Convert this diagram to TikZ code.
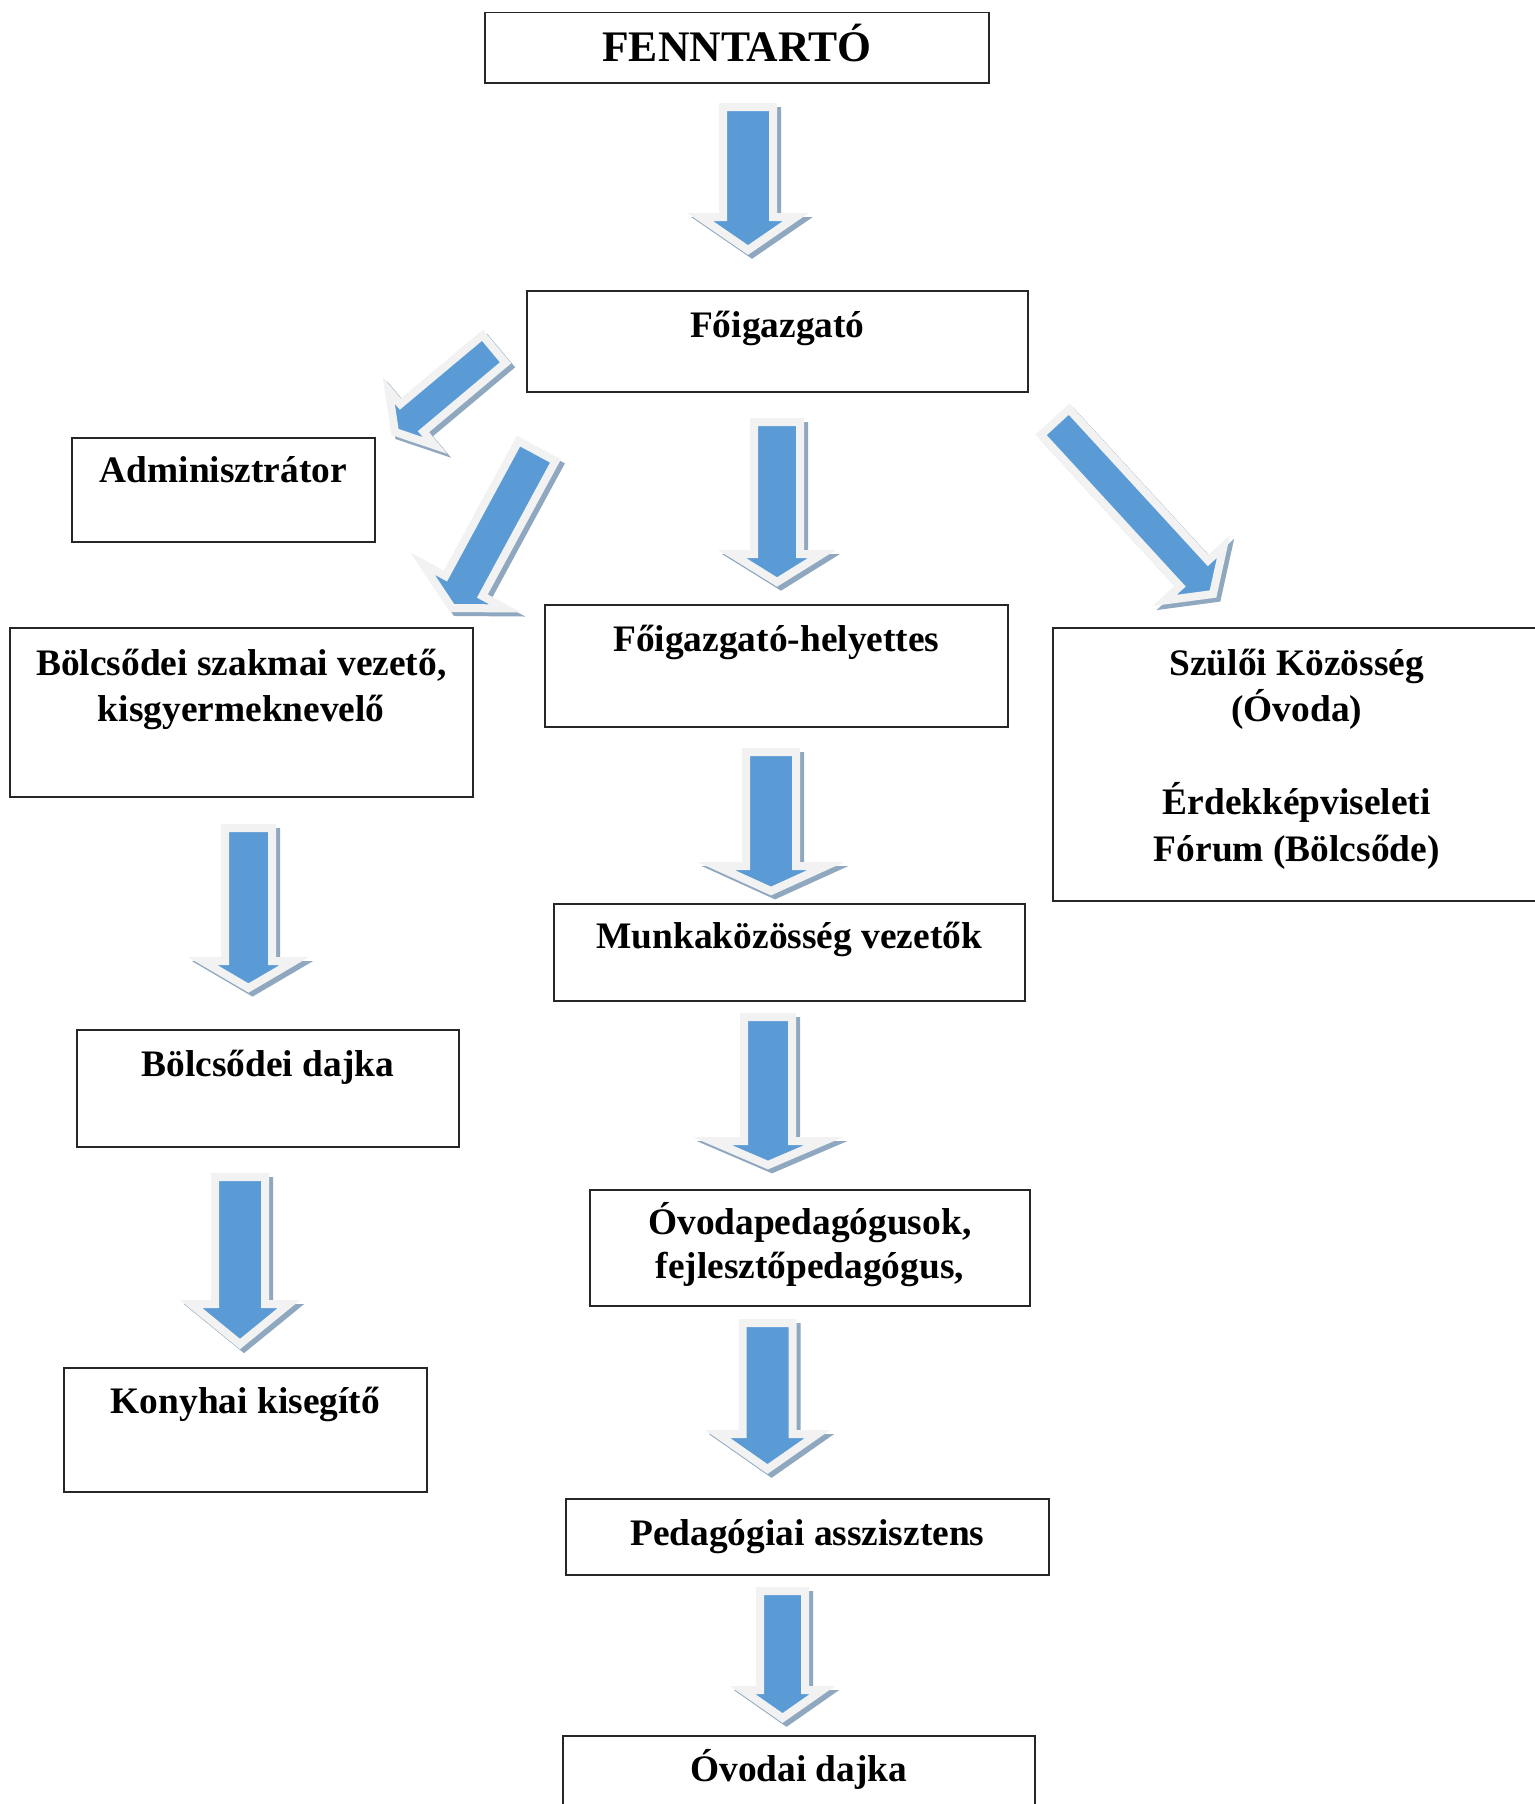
\documentclass[tikz,border=0pt]{standalone}
\usepackage{fontspec}
\setmainfont{Liberation Serif}
\usetikzlibrary{calc,positioning}
\definecolor{arrowblue}{RGB}{91,155,213}
\definecolor{arrowrim}{RGB}{242,242,242}
\definecolor{arrowshade}{RGB}{143,168,192}
\tikzset{
  box/.style={draw=black!85, line width=0.8pt, rectangle, inner sep=0pt, anchor=north west},
  lbl/.style={anchor=north, inner sep=0pt, align=center, font=\bfseries\fontsize{18.7}{23.25}\selectfont},
  arrowbody/.style={draw=arrowrim, fill=arrowblue, line width=4pt, line join=miter},
  arrowshadow/.style={draw=arrowshade, fill=arrowshade, line width=4pt, line join=miter,
    transform canvas={shift={(2pt,-2pt)}}},
}
\newcommand{\lblstrut}{\rule{0pt}{20pt}}
% tail, tip, shaft half width, head half width, head length
\newcommand{\blockarrow}[5]{%
  \coordinate (ab) at ($(#2)!#5!(#1)$);
  \draw[arrowshadow] ($(#1)!#3!90:(#2)$) -- ($(ab)!#3!90:(#2)$) -- ($(ab)!#4!90:(#2)$) -- (#2)
    -- ($(ab)!#4!-90:(#2)$) -- ($(ab)!#3!-90:(#2)$) -- ($(#1)!#3!-90:(#2)$) -- cycle;
  \draw[arrowbody] ($(#1)!#3!90:(#2)$) -- ($(ab)!#3!90:(#2)$) -- ($(ab)!#4!90:(#2)$) -- (#2)
    -- ($(ab)!#4!-90:(#2)$) -- ($(ab)!#3!-90:(#2)$) -- ($(#1)!#3!-90:(#2)$) -- cycle;
}
\begin{document}
\begin{tikzpicture}[x=0.5pt, y=-0.5pt]
        \useasboundingbox (0,0) rectangle (1535,1804);
        \clip (0,0) rectangle (1535,1804);

        \node[box, minimum width=252pt, minimum height=35.25pt] (fenn) at (484,11.5) {};
        \node[box, minimum width=250.5pt, minimum height=50.5pt] (fo) at (526,290) {};
        \node[box, minimum width=151.5pt, minimum height=52pt] (admin) at (71,437) {};
        \node[box, minimum width=231.5pt, minimum height=84.5pt] (bszv) at (9,627) {};
        \node[box, minimum width=231.5pt, minimum height=61pt] (foh) at (544,604) {};
        \node[box, minimum width=244pt, minimum height=136.5pt] (szuloi) at (1052,627) {};
        \node[box, minimum width=235.5pt, minimum height=48.5pt] (mkv) at (553,903) {};
        \node[box, minimum width=191pt, minimum height=58.5pt] (bdajka) at (76,1029) {};
        \node[box, minimum width=220pt, minimum height=58pt] (ovped) at (589,1189) {};
        \node[box, minimum width=181.5pt, minimum height=62pt] (konyha) at (63,1367) {};
        \node[box, minimum width=241.5pt, minimum height=38pt] (pedassz) at (565,1498) {};
        \node[box, minimum width=236pt, minimum height=45pt] (ovdajka) at (562,1735) {};

        \node[lbl, font=\bfseries\fontsize{21.8}{25}\selectfont, below=4.75pt of fenn.north] (fenntext) {\lblstrut FENNTARTÓ};
        \node[lbl, below=3.5pt of fo.north] (fotext) {\lblstrut Főigazgató};
        \node[lbl, below=2.5pt of admin.north] (admintext) {\lblstrut Adminisztrátor};
        \node[lbl, below=4pt of bszv.north] (bszvtext) {\lblstrut Bölcsődei szakmai vezető,\\ kisgyermeknevelő};
        \node[lbl, below=3.5pt of foh.north] (fohtext) {\lblstrut Főigazgató-helyettes};
        \node[lbl, below=4pt of szuloi.north] (szuloitext) {\lblstrut Szülői Közösség\\ (Óvoda)\\[23.25pt] Érdekképviseleti\\ Fórum (Bölcsőde)};
        \node[lbl, below=2.5pt of mkv.north] (mkvtext) {\lblstrut Munkaközösség vezetők};
        \node[lbl, below=3.5pt of bdajka.north] (bdajkatext) {\lblstrut Bölcsődei dajka};
        \node[lbl, below=2.5pt of ovped.north] (ovpedtext) {\lblstrut Óvodapedagógusok,\\[-1.25pt] fejlesztőpedagógus,};
        \node[lbl, below=3pt of konyha.north] (konyhatext) {\lblstrut Konyhai kisegítő};
        \node[lbl, below=3.75pt of pedassz.north] (pedassztext) {\lblstrut Pedagógiai asszisztens};
        \node[lbl, below=3pt of ovdajka.north] (ovdajkatext) {\lblstrut Óvodai dajka};

        \coordinate (a1s) at (748,107);    \coordinate (a1e) at (748,250);
        \coordinate (a2s) at (494,349);    \coordinate (a2e) at (395,432);
        \coordinate (a3s) at (537,451);    \coordinate (a3e) at (452,608);
        \coordinate (a4s) at (777,422);    \coordinate (a4e) at (777,582);
        \coordinate (a5s) at (1055,422);   \coordinate (a5e) at (1213,594);
        \coordinate (a6s) at (771,752);    \coordinate (a6e) at (771,891);
        \coordinate (a7s) at (768,1017);   \coordinate (a7e) at (768,1165);
        \coordinate (a8s) at (767.5,1323); \coordinate (a8e) at (767.5,1469);
        \coordinate (a9s) at (782.5,1591); \coordinate (a9e) at (782.5,1718);
        \coordinate (a10s) at (248.5,828); \coordinate (a10e) at (248.5,988);
        \coordinate (a11s) at (240,1177);  \coordinate (a11e) at (240,1344);

        \blockarrow{a1s}{a1e}{12.5pt}{24pt}{16.5pt}
        \blockarrow{a2s}{a2e}{9pt}{18pt}{11pt}
        \blockarrow{a3s}{a3e}{10.5pt}{23.5pt}{12.5pt}
        \blockarrow{a4s}{a4e}{11.5pt}{22.5pt}{14pt}
        \blockarrow{a5s}{a5e}{9.5pt}{20pt}{14pt}
        \blockarrow{a6s}{a6e}{12.5pt}{27.5pt}{12.5pt}
        \blockarrow{a7s}{a7e}{12pt}{28pt}{12pt}
        \blockarrow{a8s}{a8e}{12.5pt}{25pt}{17.5pt}
        \blockarrow{a9s}{a9e}{11.25pt}{20pt}{14pt}
        \blockarrow{a10s}{a10e}{11.75pt}{23pt}{13.5pt}
        \blockarrow{a11s}{a11e}{12.5pt}{24.5pt}{20pt}
\end{tikzpicture}
\end{document}
